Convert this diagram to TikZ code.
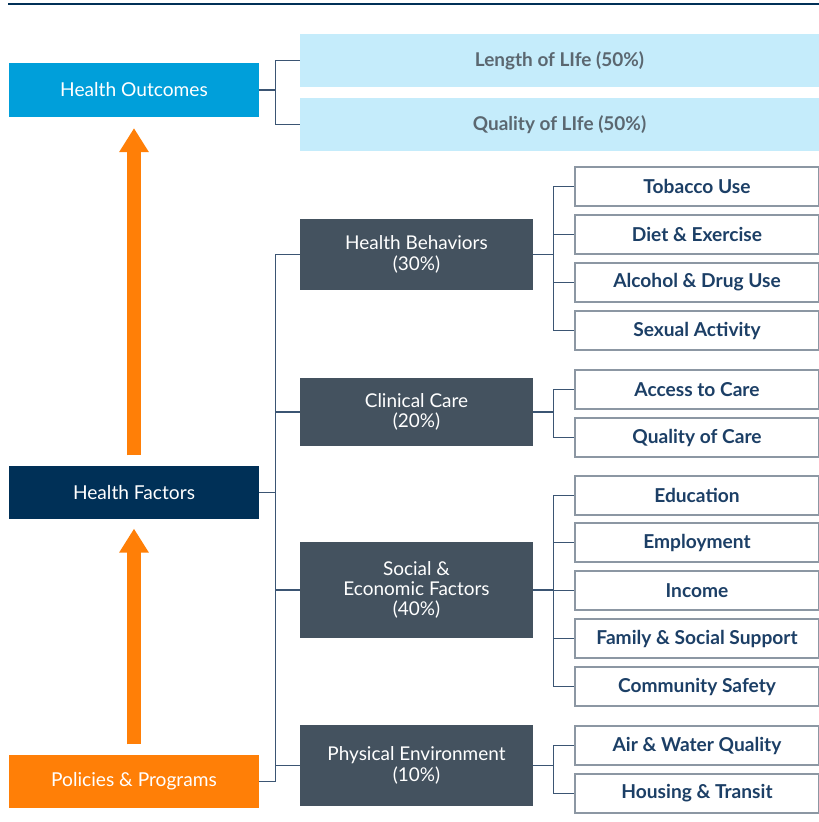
\documentclass[tikz,border=0pt]{standalone}
\usepackage{fontspec}
\setmainfont{Lato}
\usepackage{tikz}
\usetikzlibrary{positioning}
\usetikzlibrary{arrows.meta}

\definecolor{outblue}{RGB}{0,159,218}
\definecolor{lifeblue}{RGB}{197,236,251}
\definecolor{factnavy}{RGB}{0,48,87}
\definecolor{polorange}{RGB}{255,127,7}
\definecolor{catslate}{RGB}{68,82,95}
\definecolor{leafgrey}{RGB}{140,151,163}
\definecolor{leaftext}{RGB}{28,63,102}
\definecolor{lifetext}{RGB}{91,103,112}
\definecolor{linkblue}{RGB}{59,85,115}

\tikzset{
	mainbox/.style={rectangle, minimum width=5cm, minimum height=1.07cm, inner sep=0pt, text=white, font=\fontsize{10.9}{12}\selectfont},
	lifebox/.style={rectangle, fill=lifeblue, minimum width=10.38cm, minimum height=1.06cm, inner sep=0pt, text=lifetext, font=\fontsize{10.8}{12}\selectfont\bfseries},
	catbox/.style={rectangle, fill=catslate, minimum width=4.66cm, inner sep=0pt, text=white, align=center, font=\fontsize{10.8}{11.6}\selectfont},
	leafbox/.style={rectangle, draw=leafgrey, line width=0.8pt, fill=white, minimum width=4.88cm, minimum height=0.78cm, inner sep=0pt, text=leaftext, font=\fontsize{10.9}{12}\selectfont\bfseries},
	link/.style={draw=linkblue, line width=0.6pt},
	uparrow/.style={draw=polorange, line width=0.28cm, -{Triangle[width=0.56cm,length=0.48cm]}}
}

\begin{document}
\begin{tikzpicture}
	\useasboundingbox (0,0) rectangle (16.38,-16.44);
	% top rule
	\coordinate (ruleL) at (0.16,-0.08);
	\coordinate (ruleR) at (16.38,-0.08);
	\draw[draw=factnavy, line width=0.6pt] (ruleL) -- (ruleR);

	% left column
	\node[mainbox, fill=outblue]   (outcomes) at (2.68,-1.80)  {Health Outcomes};
	\node[mainbox, fill=factnavy]  (factors)  at (2.68,-9.85)  {Health Factors};
	\node[mainbox, fill=polorange] (policies) at (2.68,-15.63) {Policies \& Programs};

	% outcomes
	\node[lifebox] (length)  at (11.19,-1.21) {Length of LIfe (50\%)};
	\node[lifebox] (quality) at (11.19,-2.49) {Quality of LIfe (50\%)};

	% factor groups
	\node[catbox, minimum height=1.42cm] (behav)    at (8.33,-5.09)  {Health Behaviors\\(30\%)};
	\node[catbox, minimum height=1.36cm] (clinical) at (8.33,-8.24)  {Clinical Care\\(20\%)};
	\node[catbox, minimum height=1.92cm] (social)   at (8.33,-11.80) {Social \&\\Economic Factors\\(40\%)};
	\node[catbox, minimum height=1.62cm] (physical) at (8.33,-15.31) {Physical Environment\\(10\%)};

	% leaves
	\node[leafbox] (tobacco)   at (13.94,-3.73)  {Tobacco Use};
	\node[leafbox] (diet)      at (13.94,-4.69)  {Diet \& Exercise};
	\node[leafbox] (alcohol)   at (13.94,-5.65)  {Alcohol \& Drug Use};
	\node[leafbox] (sexual)    at (13.94,-6.61)  {Sexual Activity};
	\node[leafbox] (access)    at (13.94,-7.79)  {Access to Care};
	\node[leafbox] (carequal)  at (13.94,-8.75)  {Quality of Care};
	\node[leafbox] (education) at (13.94,-9.91)  {Education};
	\node[leafbox] (employ)    at (13.94,-10.85) {Employment};
	\node[leafbox] (income)    at (13.94,-11.81) {Income};
	\node[leafbox] (family)    at (13.94,-12.77) {Family \& Social Support};
	\node[leafbox] (safety)    at (13.94,-13.73) {Community Safety};
	\node[leafbox] (airwater)  at (13.94,-14.91) {Air \& Water Quality};
	\node[leafbox] (housing)   at (13.94,-15.87) {Housing \& Transit};

	% brackets
	\draw[link] (outcomes.east) -- ++(0.32,0) |- (length.west);
	\draw[link] (outcomes.east) -- ++(0.32,0) |- (quality.west);
	\draw[link] (factors.east) -- ++(0.32,0) |- (behav.west);
	\draw[link] (factors.east) -- ++(0.32,0) |- (clinical.west);
	\draw[link] (factors.east) -- ++(0.32,0) |- (social.west);
	\draw[link] (factors.east) -- ++(0.32,0) |- (physical.west);
	\draw[link] (policies.east) -- ++(0.32,0) |- (physical.west);
	\foreach \leaf in {tobacco,diet,alcohol,sexual}
		\draw[link] (behav.east) -- ++(0.4,0) |- (\leaf.west);
	\foreach \leaf in {access,carequal}
		\draw[link] (clinical.east) -- ++(0.4,0) |- (\leaf.west);
	\foreach \leaf in {education,employ,income,family,safety}
		\draw[link] (social.east) -- ++(0.4,0) |- (\leaf.west);
	\foreach \leaf in {airwater,housing}
		\draw[link] (physical.east) -- ++(0.4,0) |- (\leaf.west);

	% orange arrows
	\draw[uparrow] ([yshift=0.2cm]factors.north) -- ([yshift=-0.22cm]outcomes.south);
	\draw[uparrow] ([yshift=0.2cm]policies.north) -- ([yshift=-0.18cm]factors.south);
\end{tikzpicture}
\end{document}
